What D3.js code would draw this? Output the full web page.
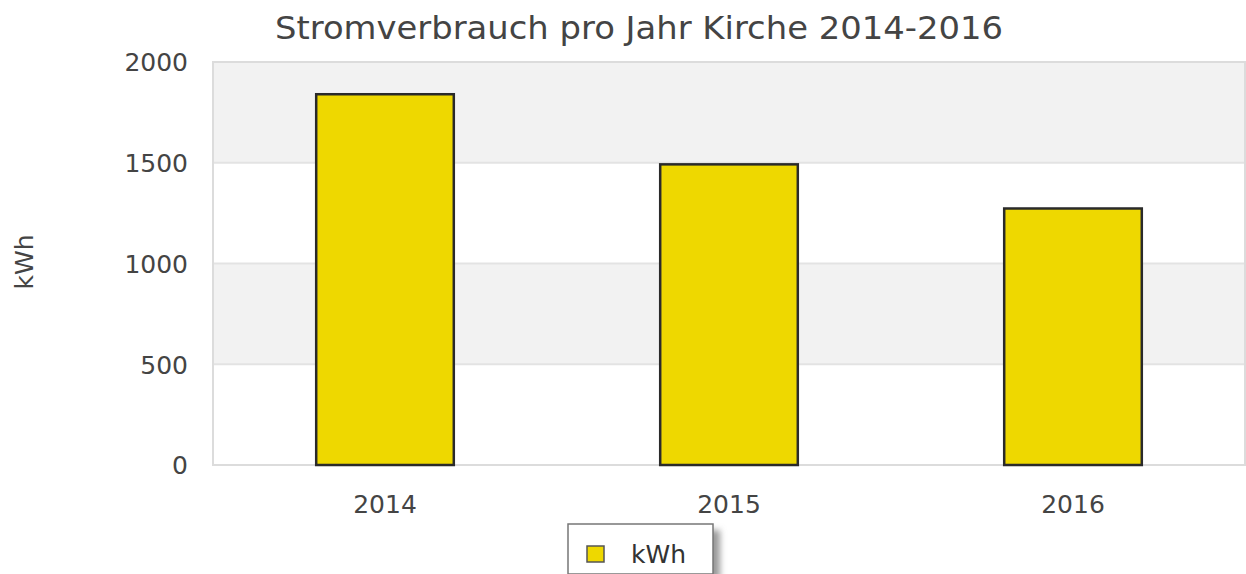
<!DOCTYPE html>
<html>
<head>
<meta charset="utf-8">
<script src="https://cdn.jsdelivr.net/npm/d3@7"></script>
<style>
  body { margin: 0; background: #fff; }
  text { font-family: "DejaVu Sans", sans-serif; }
</style>
</head>
<body>
<div id="chart"></div>
<script>
// chart data
var years = ['2014', '2015', '2016'];
var kwh = [1840, 1492, 1273];
var yTicks = [0, 500, 1000, 1500, 2000];
var title = 'Stromverbrauch pro Jahr Kirche 2014-2016';
var seriesName = 'kWh';

var width = 1246;
var height = 574;
var plot = { left: 213, top: 62, right: 1245, bottom: 465 };

var svg = d3.select('#chart')
  .append('svg')
    .attr('width', width)
    .attr('height', height);

var defs = svg.append('defs');
defs.append('filter')
    .attr('id', 'shadow')
    .attr('x', '-20%').attr('y', '-50%')
    .attr('width', '140%').attr('height', '200%')
  .append('feGaussianBlur')
    .attr('stdDeviation', 3);

var x = d3.scaleBand()
  .domain(years)
  .range([plot.left, plot.right])
  .paddingInner(0.6)
  .paddingOuter(0.3);

var y = d3.scaleLinear()
  .domain([0, 2000])
  .range([plot.bottom, plot.top]);

// alternating bands
var bands = d3.pairs(yTicks);
svg.append('g').selectAll('rect')
  .data(bands).enter()
  .append('rect')
    .attr('x', plot.left)
    .attr('y', d => y(d[1]))
    .attr('width', plot.right - plot.left)
    .attr('height', d => y(d[0]) - y(d[1]))
    .attr('fill', (d, i) => i % 2 ? '#f2f2f2' : '#ffffff');

// grid lines
svg.append('g').selectAll('line')
  .data(yTicks).enter()
  .append('line')
    .attr('x1', plot.left)
    .attr('x2', plot.right)
    .attr('y1', d => y(d))
    .attr('y2', d => y(d))
    .attr('stroke', '#e3e3e3')
    .attr('stroke-width', 2);

// plot border
svg.append('rect')
    .attr('x', plot.left)
    .attr('y', plot.top)
    .attr('width', plot.right - plot.left)
    .attr('height', plot.bottom - plot.top)
    .attr('fill', 'none')
    .attr('stroke', '#dcdcdc')
    .attr('stroke-width', 2);

// bars
svg.append('g').selectAll('rect')
  .data(kwh).enter()
  .append('rect')
    .attr('x', (d, i) => x(years[i]))
    .attr('y', d => y(d))
    .attr('width', x.bandwidth())
    .attr('height', d => y(0) - y(d))
    .attr('fill', '#eed800')
    .attr('stroke', '#2a2a2a')
    .attr('stroke-width', 2.5);

// y axis
var yAxis = svg.append('g')
    .attr('transform', 'translate(' + (plot.left - 25) + ',0)')
    .call(d3.axisLeft(y).tickValues(yTicks).tickFormat(d3.format('d')).tickSize(0).tickPadding(0));
yAxis.select('.domain').remove();
yAxis.selectAll('text')
    .attr('fill', '#444')
    .attr('dy', '0.35em')
    .style('font-size', '25px');

// x axis
var xAxis = svg.append('g')
    .attr('transform', 'translate(0,' + plot.bottom + ')')
    .call(d3.axisBottom(x).tickSize(0).tickPadding(0));
xAxis.select('.domain').remove();
xAxis.selectAll('text')
    .attr('fill', '#444')
    .attr('y', 48)
    .attr('dy', 0)
    .style('font-size', '25px');

// y axis label
svg.append('text')
    .attr('transform', 'translate(33,262) rotate(-90)')
    .attr('text-anchor', 'middle')
    .attr('fill', '#444')
    .style('font-size', '25px')
    .text(seriesName);

// title
svg.append('text')
    .attr('x', 639)
    .attr('y', 39)
    .attr('text-anchor', 'middle')
    .attr('fill', '#444')
    .style('font-size', '32px')
    .attr('textLength', 728)
    .attr('lengthAdjust', 'spacingAndGlyphs')
    .text(title);

// legend
var legend = svg.append('g');
legend.append('rect')
    .attr('x', 574).attr('y', 530)
    .attr('width', 146).attr('height', 50)
    .attr('fill', '#999')
    .attr('filter', 'url(#shadow)');
legend.append('rect')
    .attr('x', 568).attr('y', 524)
    .attr('width', 145).attr('height', 50)
    .attr('fill', '#fff')
    .attr('stroke', '#777')
    .attr('stroke-width', 1.5);
legend.append('rect')
    .attr('x', 587).attr('y', 546)
    .attr('width', 17).attr('height', 16)
    .attr('fill', '#eed800')
    .attr('stroke', '#555')
    .attr('stroke-width', 1.5);
legend.append('text')
    .attr('x', 631).attr('y', 563)
    .attr('fill', '#333')
    .style('font-size', '25px')
    .text(seriesName);
</script>
</body>
</html>
